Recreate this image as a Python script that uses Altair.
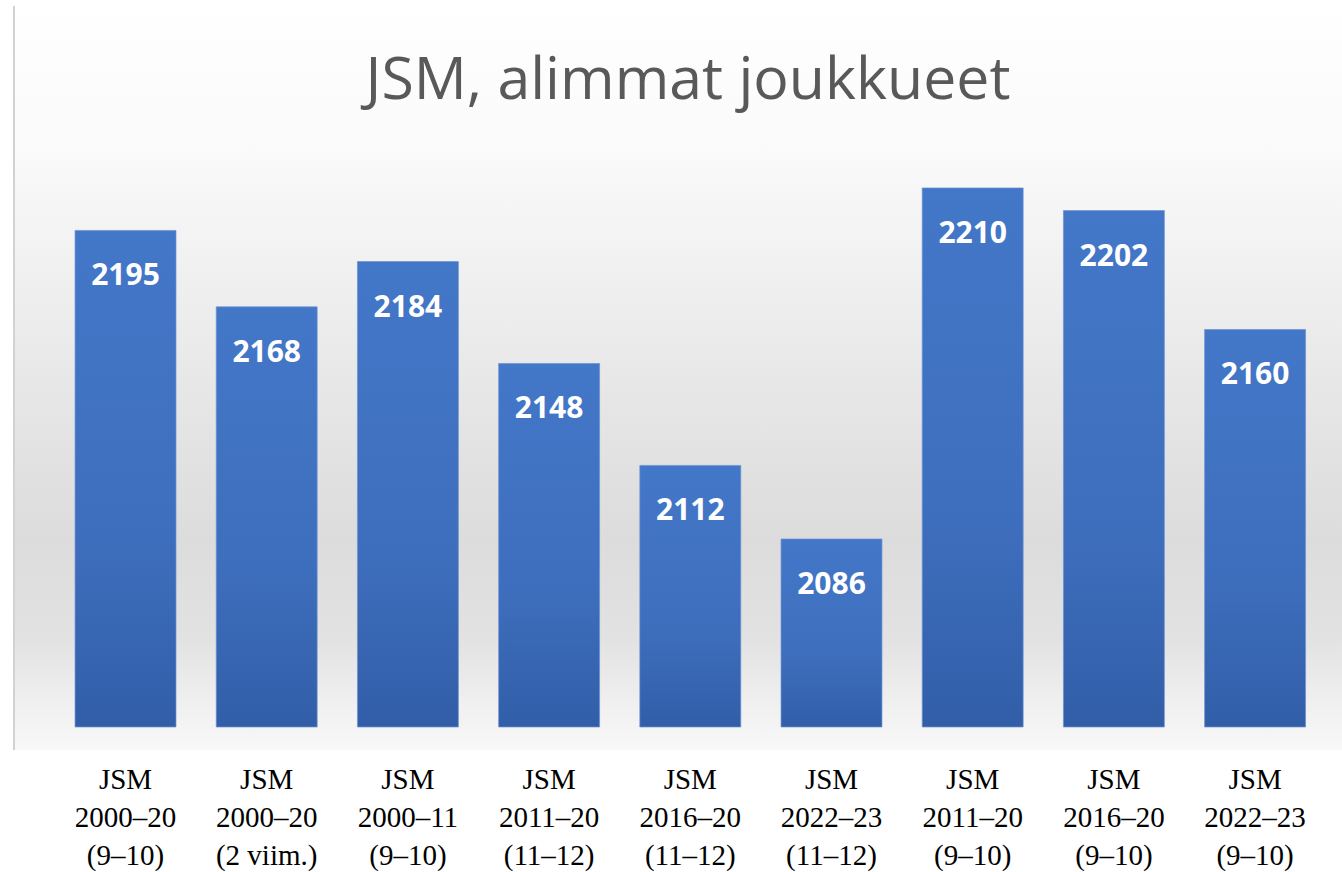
import altair as alt
import pandas as pd

title_text = "JSM, alimmat joukkueet"
categories = [
    "JSM\n2000–20\n(9–10)",
    "JSM\n2000–20\n(2 viim.)",
    "JSM\n2000–11\n(9–10)",
    "JSM\n2011–20\n(11–12)",
    "JSM\n2016–20\n(11–12)",
    "JSM\n2022–23\n(11–12)",
    "JSM\n2011–20\n(9–10)",
    "JSM\n2016–20\n(9–10)",
    "JSM\n2022–23\n(9–10)",
]
values = [2195, 2168, 2184, 2148, 2112, 2086, 2210, 2202, 2160]

df = pd.DataFrame({"cat": categories, "val": values})
tdf = pd.DataFrame({"t": [title_text]})

L, T = 46.8, 150
W, H = 1287, 577
Y_MIN, Y_MAX = 2019.6, 2223.4

bg_grad = alt.Gradient(
    gradient="linear", x1=0, y1=0, x2=0, y2=1,
    stops=[
        alt.GradientStop(color="#ffffff", offset=0),
        alt.GradientStop(color="#fafafa", offset=0.2),
        alt.GradientStop(color="#e8e8e8", offset=0.5),
        alt.GradientStop(color="#dcdcdc", offset=0.72),
        alt.GradientStop(color="#e2e2e2", offset=0.85),
        alt.GradientStop(color="#f0f0f0", offset=0.94),
        alt.GradientStop(color="#f8f8f8", offset=1),
    ],
)
bar_grad = alt.Gradient(
    gradient="linear", x1=0, y1=0, x2=0, y2=1,
    stops=[
        alt.GradientStop(color="#4377c7", offset=0),
        alt.GradientStop(color="#3e6fbe", offset=0.6),
        alt.GradientStop(color="#325ea8", offset=1),
    ],
)

x_enc = alt.X(
    "cat:N", sort=None, title=None,
    scale=alt.Scale(paddingInner=0.285, paddingOuter=0.2),
    axis=alt.Axis(
        labelAngle=0, domain=False, ticks=False,
        labelFont="Liberation Serif", labelFontSize=29, labelColor="#000000",
        labelLineHeight=38, labelPadding=38,
        labelExpr="split(datum.label, '\\n')",
    ),
)
y_enc = alt.Y(
    "val:Q", title=None,
    scale=alt.Scale(domain=[Y_MIN, Y_MAX], zero=False, nice=False),
    axis=None,
)

background = alt.Chart(df).mark_rect(fill=bg_grad, clip=False).encode(
    x=alt.value(14 - L), x2=alt.value(1342 - L),
    y=alt.value(-T), y2=alt.value(750 - T),
)
left_line = alt.Chart(df).mark_rule(color="#d2d2d2", strokeWidth=2, clip=False).encode(
    x=alt.value(14 - L), y=alt.value(6 - T), y2=alt.value(750 - T),
)

bars = alt.Chart(df).mark_bar(fill=bar_grad, stroke="#6d93d4", strokeWidth=1, strokeOpacity=0.7).encode(
    x=x_enc, y=y_enc, y2=alt.datum(Y_MIN),
)

labels = alt.Chart(df).mark_text(
    font="Open Sans", fontWeight="bold", fontSize=30, color="#ffffff",
    baseline="middle", dy=46,
).encode(x=x_enc, y=y_enc, text=alt.Text("val:Q", format="d"))

title = alt.Chart(tdf).mark_text(
    font="Open Sans", fontSize=59, color="#595959", baseline="alphabetic",
    align="center", clip=False,
).encode(x=alt.value(688 - L), y=alt.value(99 - T), text="t:N")

chart = alt.layer(background, left_line, bars, labels, title).properties(
    width=W, height=H,
    autosize=alt.AutoSizeParams(type="none"),
    padding={"left": L, "top": T, "right": 1342 - L - W, "bottom": 872 - T - H},
).configure_view(stroke=None)

chart.save("out.html", embed_options={"renderer": "svg", "actions": False})
